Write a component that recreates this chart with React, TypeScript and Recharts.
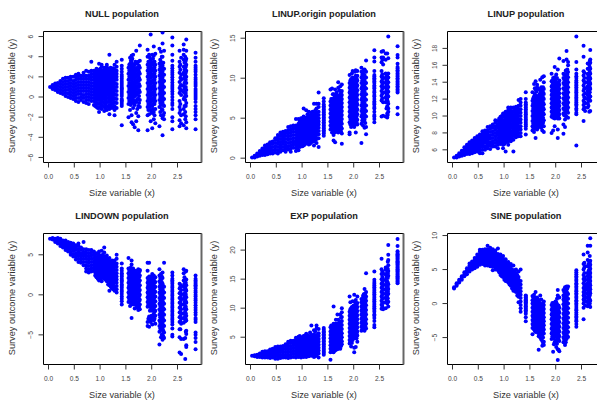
import { ScatterChart, Scatter, XAxis, YAxis, ReferenceArea, ReferenceLine } from 'recharts'

const xTicks = [0, 0.5, 1, 1.5, 2, 2.5]
const xDomain = [-0.097, 2.965]
const dotColor = '#0000FF'

// size variable, one entry per column of points (shared by all panels)
const sizeColumns = [
  0.03, 0.08, 0.13, 0.18, 0.23, 0.28, 0.33, 0.38, 0.43, 0.48, 0.53, 0.58, 0.63, 0.68,
  0.73, 0.78, 0.83, 0.88, 0.93, 0.98, 1.03, 1.08, 1.13, 1.18, 1.23, 1.28, 1.32,
  1.42, 1.55, 1.58, 1.61, 1.64, 1.67, 1.7, 1.74, 1.77,
  1.92, 1.95, 1.98, 2.01, 2.04, 2.07, 2.15, 2.18, 2.21, 2.24,
  2.4, 2.54, 2.57, 2.62, 2.65, 2.67, 2.85,
  // second pass over the dense parts
  0.905, 0.955, 1.005, 1.055, 1.105, 1.155, 1.205, 1.255,
  1.42, 1.565, 1.595, 1.625, 1.655, 1.685, 1.72, 1.755,
  1.935, 1.965, 1.995, 2.025, 2.055, 2.165, 2.195, 2.225,
  2.4, 2.555, 2.635, 2.66, 2.85,
]

const nullY = [
  [1], [.8,1,1.2], [.7,.95,1.2,1.35], [.5,.8,1.1,1.4], [.4,.7,1,1.3,1.6], [.3,.6,.9,1.2,1.5,1.8],
  [.1,.4,.7,1,1.3,1.6,1.9], [0,.35,.7,1,1.3,1.6,1.9], [-.1,.2,.5,.8,1.1,1.4,1.7,2], [-.2,.1,.4,.7,1,1.3,1.6,2],
  [-.4,-.1,.2,.5,.8,1.1,1.4,1.7,2,2.2], [-.5,-.1,.3,.6,.9,1.2,1.5,1.8,2.1,2.3], [-.3,0,.3,.6,.9,1.2,1.5,1.8,2.1],
  [-.5,-.1,.2,.6,.9,1.2,1.5,1.8,2.1,2.4], [-.6,-.3,0,.3,.6,.9,1.2,1.5,1.8,2.1,2.6], [-.7,-.3,0,.3,.6,.9,1.2,1.5,1.8,2.1,2.5],
  [-.4,-.1,.2,.5,.8,1.1,1.4,1.7,2,2.3,2.6,3.5], [-.8,-.4,-.1,.2,.5,.8,1.1,1.4,1.7,2,2.3,2.6], [-1,-.6,-.2,.1,.4,.7,1,1.3,1.6,1.9,2.2,2.5,2.8],
  [-1.5,-1.1,-.7,-.3,0,.3,.6,.9,1.2,1.5,1.8,2.1,2.4,2.7,3.3], [-1.2,-.8,-.4,-.1,.2,.5,.8,1.1,1.4,1.7,2,2.3,2.6,3,3.2],
  [-1.4,-1,-.6,-.2,.1,.4,.7,1,1.3,1.6,1.9,2.2,2.5,2.9], [-1.3,-.9,-.5,-.1,.3,.6,.9,1.2,1.5,1.8,2.1,2.4,2.7,3,3.2],
  [-1.7,-1.2,-.8,-.3,.1,.4,.7,1,1.3,1.6,1.9,2.2,2.5,2.8,4.2], [-1.1,-.7,-.3,0,.4,.8,1.1,1.4,1.8,2.1,2.4,2.7],
  [-1.8,-1.3,-.9,-.5,-.1,.3,.7,1,1.4,1.7,2,2.4,2.7,3.2], [-1.1,-.6,-.2,.2,.6,1,1.3,1.7,2,2.3,2.6,3,3.5],
  [-2.8,-.9,-.5,-.2,.3,.7,1,1.4,1.8,2.2,2.8,3.7], [-2,-.7,-.1,.5,1.1,1.7,2.3,2.9], [-1.3,-.4,.2,.8,1.4,2,2.6,3.3,3.9],
  [-2.5,-1.8,-.6,0,.6,1.2,1.8,2.4,3,3.6,4.1], [-2.7,-1.1,-.3,.3,.9,1.5,2.1,2.7,4.2], [-3,-.8,.1,.7,1.3,1.9,2.5,3.2],
  [-2.4,-1.6,-.5,.2,.8,1.4,2,2.6,3.4,4.6], [-3.3,-1.9,-.9,-.2,.4,1,1.6,2.2,2.8,3.5], [-1,-.3,.5,1.1,1.7,2.3,2.9,3.6,5.1],
  [-3.3,-1.8,-1,-.4,.2,.8,1.4,2,2.6,3.2,4,4.7], [-1.7,-.8,-.2,.4,1,1.6,2.2,2.8,3.4,4.2], [-2.4,-1.3,-.5,.1,.7,1.3,1.9,2.5,3.1,3.7,6.2],
  [-3.1,-1.6,-.9,-.3,.3,.9,1.5,2.1,2.7,3.3,4.2], [-2.2,-1.5,-.7,-.1,.5,1.1,1.7,2.3,2.9,3.5,4.1,5], [-2.6,-1.2,-.4,.2,.8,1.4,2,2.6,3.2,4.3],
  [-2.9,-1,-.3,.3,.9,1.5,2.1,2.7,3.3,4.8], [-1.8,-.8,-.1,.5,1.1,1.7,2.3,2.9,3.5,4.5], [-3.8,-2.1,-1.3,-.5,.1,.7,1.3,1.9,2.5,3.1,4,5.3,6.4],
  [-2.2,-1.6,-.9,-.2,.4,1,1.6,2.2,2.8,4.6],
  [-3.2,-2.4,-2,-1.2,-.8,-.3,.3,.8,1.2,1.7,2.2,2.6,3.1,3.6,4.2,5.1,5.9], [-2.9,-2.3,-1.6,-1,-.4,.4,.9,1.5,2.4,3,3.5,4.6], [-2.6,-1.8,.2,.7,1.2,1.7,2.2,3.9],
  [-2.8,-1.7,-1.2,-.2,.5,1.1,1.8,2.4,3,3.7,4.2,4.7,5.2], [-2.2,-1.5,-.3,.3,.9,1.5,2.2,2.9,3.4,4], [-3.1,-2.5,-.6,.1,.7,1.4,2,2.6,3.2,3.8,4.6,5.7],
  [-3.2,-2.2,-1.8,-1.5,-.9,-.5,0,.4,.8,1.1,1.5,1.9,2.5,2.9,3.1,3.5,3.9,4.4],
  [-.9,-.5,-.1,.3,.65,1.05,1.35,1.65,1.95,2.25], [-1.1,-.7,-.3,.1,.45,.75,1.05,1.35,1.65,1.95,2.25,2.55], [-1,-.6,-.25,.05,.35,.65,.95,1.25,1.55,1.85,2.15,2.45,2.8],
  [-.9,-.5,-.1,.25,.55,.85,1.15,1.45,1.75,2.05,2.35,2.65], [-1.1,-.7,-.3,.15,.45,.75,1.05,1.35,1.65,1.95,2.25,2.55,2.85], [-1,-.5,-.1,.25,.55,.85,1.15,1.45,1.75,2.05,2.35,2.65],
  [-.9,-.5,-.1,.2,.55,.9,1.2,1.55,1.85,2.2,2.55,2.9], [-1,-.6,-.2,.2,.5,.85,1.2,1.55,1.85,2.2,2.55,2.85],
  [-.7,-.35,.1,.5,.85,1.2,1.6,2,2.5,3.1], [-.4,.2,.8,1.4,2,2.6,3.2], [-.8,-.1,.5,1.1,1.7,2.3,2.9,3.6], [-.3,.3,.9,1.5,2.1,2.7,3.3,3.8],
  [-.6,0,.6,1.2,1.8,2.4,3], [-.4,.4,1,1.6,2.2,2.8,3.5], [-1.2,-.2,.5,1.1,1.7,2.3,2.9,3.3], [-.6,.1,.7,1.3,1.9,2.5,3.1],
  [-1.3,-.7,-.1,.5,1.1,1.7,2.3,2.9,3.5], [-1,-.3,.3,.9,1.5,2.1,2.7,3.3,3.9], [-1.5,-.8,-.2,.4,1,1.6,2.2,2.8,3.4], [-1.2,-.4,.2,.8,1.4,2,2.6,3.2,3.8], [-1.8,-.7,-.1,.5,1.1,1.7,2.3,2.9,3.5],
  [-1.5,-.6,0,.6,1.2,1.8,2.4,3,3.7], [-1.2,-.4,.2,.8,1.4,2,2.6,3.2,4], [-1.8,-.8,-.2,.4,1,1.6,2.2,2.8,3.4],
  [-.6,0,.55,1,1.45,1.95,2.4,2.85], [-1.3,-.7,.6,1.1,1.9,2.7,3.2], [-.9,0,.8,1.4,2.1,2.7,3.4], [-1.9,-.9,.4,1,1.7,2.4,3,3.6], [-1.2,-.2,.2,.6,1.3,1.7,2.2,2.7],
]

const linupOriginY = [
  [.1], [.1,.3], [.2,.4,.6], [.3,.6,.9], [.4,.7,1,1.2], [.4,.7,1,1.3,1.6], [.5,.8,1.1,1.4,1.7],
  [.6,.9,1.2,1.5,1.8,2], [.6,1,1.4,1.8,2.1], [.7,1.1,1.5,1.9,2.3,2.5], [.6,1,1.4,1.8,2.2,2.6,2.9], [.8,1.2,1.6,2,2.4,2.8,3.2],
  [1,1.4,1.8,2.2,2.6,3,3.3], [.8,1.2,1.6,2,2.4,2.8,3.2,3.4], [1.1,1.5,1.9,2.3,2.7,3.1,3.5,3.9], [.8,1.2,1.6,2,2.4,2.8,3.2,3.6,4],
  [1.3,1.7,2.1,2.5,2.9,3.3,3.7,4.1], [.9,1.3,1.7,2.1,2.5,2.9,3.3,3.7,4.1,4.9], [1,1.5,1.9,2.3,2.7,3.1,3.5,3.9,4.3,4.9],
  [1.5,1.9,2.3,2.7,3.1,3.5,3.9,4.3,4.7,5], [1.6,2,2.4,2.8,3.2,3.6,4,4.4,4.8,5.2,6.2], [1.9,2.3,2.7,3.1,3.5,3.9,4.3,4.7,5.1,6],
  [1.7,2.1,2.5,2.9,3.3,3.7,4.1,4.5,4.9,5.3,5.8], [2,2.4,2.8,3.2,3.6,4,4.4,4.8,5.2,5.7], [1.6,2.1,2.6,3,3.4,3.8,4.2,4.6,5,5.4,6.8],
  [1.9,2.4,2.9,3.3,3.7,4.1,4.5,4.9,5.3,5.7,6.2,6.8], [1.4,2.5,3,3.4,3.8,4.2,4.6,5,5.4,5.8,6.4,6.8,8.2],
  [2.8,3.1,3.5,3.9,4.3,4.7,5.1,5.5,5.9,6.3,6.7,7.1,7.5], [3.6,4.1,4.6,5.1,5.6,6.1,6.6,7.1,8.6], [3.2,3.9,4.4,4.9,5.4,5.9,6.4,6.9,7.4,8.7],
  [2.2,2.9,3.5,4.2,4.7,5.2,5.7,6.2,6.7,7.2,8], [2,3.3,3.8,4.5,5,5.5,6,6.5,7,7.5,8.6], [3.3,4,4.6,5.1,5.6,6.1,6.6,7.1,7.6,8.2],
  [3.2,3.8,4.3,4.8,5.3,5.8,6.3,6.8,7.3,7.8,8.8,9.5], [3.5,4,4.5,5,5.5,6,6.5,7,7.5,8,9], [1.8,3.1,3.7,4.3,4.9,5.4,5.9,6.4,6.9,7.4,7.9,8.4,9.2],
  [3,3.2,4.5,5.2,5.8,6.4,7,7.6,8.2,8.8,9.4,10.4], [3.9,4.6,5.2,5.8,6.4,7,7.6,8.2,8.8,9.4,9.9], [4.1,4.8,5.4,6,6.6,7.2,7.8,8.4,9,9.6,10.1,10.9],
  [3.9,4.5,5.1,5.7,6.3,6.9,7.5,8.1,8.7,9.3,9.9], [3.2,4.2,4.9,5.5,6.1,6.7,7.3,7.9,8.5,9.1,9.7,10.3,11], [4.2,4.8,5.5,6.1,6.7,7.3,7.9,8.5,9.1,9.7,10.3,10.9],
  [1.9,4.3,5.2,5.9,6.6,7.3,8,8.7,9.4,10.1,10.8,11.3], [4.1,5,5.7,6.4,7.1,7.8,8.5,9.2,9.9,10.6], [3.8,4.8,5.5,6.2,6.9,7.6,8.3,9,9.7,10.4,11.1],
  [3,3.9,5.2,5.9,6.6,7.3,8,8.7,9.4,10.1,10.8,12.2],
  [4.5,4.9,5.4,6.2,6.7,7.1,7.7,8.2,8.7,9.1,9.6,10,10.4,10.9,12.1,12.6,13.5], [5.2,7.2,7.8,8.4,9,9.6,10.2,10.9,12,12.6,13.3], [5.3,7,8.2,8.9,9.5,10.1,11.7,12.6,13.4],
  [5.2,7,7.6,8.2,8.8,9.4,10,10.6,12.3,13.1], [5.1,5.6,6.5,7.4,8,8.6,9.2,9.8,10.4,13.1], [5.8,6.2,6.8,7.7,8.3,8.9,9.5,10.1,10.6,12.5,15.2],
  [5.5,6.3,8.2,8.6,9,9.4,9.8,10.2,10.6,11,11.4,11.8,12.6,12.9,14],
  [1.2,1.6,2,2.4,2.8,3.2,3.6,4], [1.4,1.8,2.2,2.6,3,3.4,3.8,4.2,4.6], [1.5,1.8,2.2,2.6,3,3.4,3.8,4.2,4.6,5], [1.7,2.1,2.5,2.9,3.3,3.7,4.1,4.5,4.9],
  [1.9,2.3,2.7,3.1,3.5,3.9,4.3,4.7,5.1,5.5], [1.8,2.2,2.6,3,3.4,3.8,4.2,4.6,5,5.4], [2.2,2.6,3,3.4,3.8,4.2,4.6,5,5.4,5.8], [2.3,2.7,3.2,3.6,4,4.4,4.8,5.2,5.6,6],
  [3.3,3.7,4.1,4.5,4.9,5.3,5.7,6.1,6.5], [3.9,4.4,4.9,5.4,5.9,6.4,6.9,7.4], [3.6,4.2,4.7,5.2,5.7,6.2,6.7,7.2,8], [3.2,3.8,4.4,5,5.5,6,6.5,7,7.6],
  [3.6,4.2,4.7,5.2,5.7,6.2,6.8,7.3,7.9], [3.7,4.3,4.8,5.3,5.8,6.3,6.8,7.4], [3.5,4.1,4.6,5.1,5.6,6.1,6.6,7.1,7.6,8.5], [3.3,3.9,4.6,5.2,5.7,6.2,6.7,7.2,7.7,8.2],
  [4.2,4.9,5.5,6.1,6.7,7.3,7.9,8.5,9.1,9.7], [4.3,4.9,5.5,6.1,6.7,7.3,7.9,8.5,9.1,9.7,10.6], [4.2,4.8,5.4,6,6.6,7.2,7.8,8.4,9,9.6], [4.6,5.2,5.8,6.4,7,7.6,8.2,8.8,9.4,10,10.8], [4.5,5.2,5.8,6.4,7,7.6,8.2,8.8,9.4,10],
  [4.7,5.5,6.2,6.9,7.6,8.3,9,9.7,10.4], [4.6,5.3,6,6.7,7.4,8.1,8.8,9.5,10.2,11], [4.4,5.2,5.9,6.6,7.3,8,8.7,9.4,10.1,10.9],
  [5.2,5.8,6.4,6.9,7.4,7.9,8.4,8.9,9.4,9.8,10.2], [7.5,8.1,8.7,9.3,9.9,10.5,12.3], [6.2,7.3,7.9,8.5,9.1,9.7,10.3], [5.4,7.1,7.7,8.3,8.9,9.5,10.1], [8.4,8.8,9.2,9.6,10,10.4,10.8,11.2],
]

const linupY = [
  [5.1], [5.1,5.3], [5.2,5.4,5.6], [5.3,5.6,5.9], [5.4,5.7,6,6.3], [5.5,5.8,6.1,6.4,6.6], [5.5,5.8,6.1,6.4,6.7,6.9],
  [5.6,5.9,6.2,6.5,6.8,7.1], [5.7,6,6.3,6.6,6.9,7.2,7.4], [5.8,6.1,6.4,6.7,7,7.3,7.6], [5.6,5.9,6.3,6.6,6.9,7.2,7.5,7.8], [5.6,6,6.4,6.7,7,7.3,7.6,7.9,8.2],
  [6,6.4,6.8,7.1,7.4,7.7,8,8.3], [6.2,6.5,6.8,7.1,7.4,7.7,8,8.3,8.7], [6.1,6.5,6.9,7.3,7.7,8.1,8.5,8.8], [6.4,6.7,7,7.4,7.8,8.2,8.6,9],
  [6.4,6.8,7.2,7.6,8,8.4,8.8,9.2,9.5], [6.2,6.6,7,7.4,7.8,8.2,8.6,9,9.4], [6.7,7.1,7.5,7.9,8.3,8.7,9.1,9.5,9.9], [6.2,6.6,7,7.4,7.8,8.2,8.6,9,9.4,9.9,10.3],
  [5.8,6.9,7.3,7.7,8.1,8.5,8.9,9.3,9.7,10.2,10.5], [6.6,7,7.4,7.8,8.2,8.6,9,9.4,9.8,10.2,10.7,11], [7,7.4,7.8,8.2,8.6,9,9.4,9.8,10.2,10.6,11], [5.8,7.2,7.7,8.1,8.5,8.9,9.3,9.7,10.1,10.5,11],
  [7.5,7.9,8.3,8.7,9.1,9.5,9.9,10.3,10.7,11.1], [7.6,8,8.4,8.8,9.2,9.6,10,10.4,10.8,11.2,11.9], [7.6,8,8.4,8.8,9.2,9.6,10,10.4,10.8,11.2,11.6,12],
  [7.8,8.8,9.2,9.6,10,10.4,10.8,11.2,11.6,12.8], [8.3,8.8,9.4,10,10.6,11.2,11.8,12.8], [8.1,8.6,9.2,9.8,10.4,11,11.6,12.3,13.8], [7.4,8.5,9.1,9.7,10.3,10.9,11.5,12.1,13.1,14.1],
  [8.4,9,9.6,10.2,10.8,11.4,12,13.4,13.7], [8.7,9.3,9.9,10.5,11.1,11.7,12.2,13.2], [8.8,9.4,10,10.6,11.2,11.8,12.4,13,14.3], [8.3,8.9,9.5,10.1,10.7,11.3,11.9,12.5,13.1,14.6],
  [8.1,8.8,9.5,10.2,10.8,11.4,12,12.6,13.2,14,14.7], [8,9.9,10.5,11,11.5,12,12.5,13,13.5,14.1,15], [8.3,9.8,10.3,10.8,11.3,11.8,12.3,12.8,13.3,13.8,14.5], [8.8,9.7,10.2,10.7,11.2,11.7,12.2,12.7,13.2,14.6,15.8],
  [9.9,10.4,10.9,11.4,11.9,12.4,12.9,13.4,13.9,14.4,14.9], [7.4,8.4,9.7,10.2,10.7,11.2,11.7,12.2,12.7,13.2,13.7,15.5], [9.7,10.2,10.7,11.2,11.7,12.2,12.7,13.2,13.7,14.2,16.8],
  [7.9,9,10.3,10.9,11.5,12.1,12.7,13.3,13.9,14.5,15,16.5], [8.7,9.6,10.2,10.8,11.4,12,12.6,13.2,13.8,14.4], [9.9,10.5,11.1,11.7,12.3,12.9,13.5,14.1,14.7,15.3,16.7,17.7], [9.8,10.4,11,11.6,12.2,12.8,13.4,14,14.6,15.2,16,16.4],
  [6.5,10.2,10.7,11.2,11.6,12,12.4,12.8,13.2,13.6,14,14.5,15,15.5,16.4,19.4], [9.4,10.8,11.3,11.8,12.5,13,13.6,14.2,14.8,15.3,17,18.3], [10.6,11.5,12.1,12.7,13.3,14],
  [11,11.5,12,12.5,13,13.5,14,14.5,15,15.6,16.2], [10.5,12,12.5,13.1,13.7,14.3,14.9,15.5,16.1], [10.6,11.8,12.3,13.2,13.8,14.4,15,15.6,16.3,16.7,17.8],
  [11,12,13,14,15,16,17],
  [6.9,7.3,7.7,8.1,8.5,8.9,9.3,9.7], [6.8,7.2,7.6,8,8.4,8.8,9.2,9.6,10], [6.7,7.1,7.5,7.9,8.3,8.7,9.1,9.5,9.9,10.3], [7.2,7.6,8,8.4,8.8,9.2,9.6,10,10.4],
  [7.2,7.6,8,8.4,8.8,9.2,9.6,10,10.4,10.8], [7.4,7.8,8.2,8.6,9,9.4,9.8,10.2,10.6], [7.7,8.1,8.5,8.9,9.3,9.7,10.1,10.5,10.9], [7.8,8.2,8.6,9,9.4,9.8,10.2,10.6,11],
  [8.5,9,9.4,9.8,10.2,10.6,11,11.4,12], [8.6,9.1,9.7,10.3,10.9,11.5,12.1], [8.9,9.5,10.1,10.7,11.3,11.9,12.6,13.3], [8.8,9.4,10,10.6,11.2,11.8,12.4,12.9],
  [8.7,9.3,9.9,10.5,11.1,11.7,12.3], [9,9.6,10.2,10.8,11.4,12,12.6], [8.6,9.2,9.8,10.4,11,11.6,12.2,12.8,13.4], [9.2,9.8,10.4,11,11.6,12.2,12.8,13.4],
  [10.2,10.7,11.2,11.7,12.2,12.7,13.2,13.7,14.2], [10,10.6,11.1,11.6,12.1,12.6,13.1,13.6,14.1], [10.1,10.6,11.1,11.6,12.1,12.6,13.1,13.6,14.3], [9.9,10.4,10.9,11.4,11.9,12.4,12.9,13.4,13.9,14.5], [10,10.5,11,11.5,12,12.5,13,13.5,14],
  [10.1,10.7,11.3,11.9,12.5,13.1,13.7,14.3,14.9], [10,10.6,11.2,11.8,12.4,13,13.6,14.2,14.8,15.4], [10.7,11.3,11.9,12.5,13.1,13.7,14.3,14.9,15.5],
  [10.4,10.9,11.4,11.8,12.2,12.6,13,13.4,13.8,14.2,14.7], [11,11.6,12.2,13.3,13.9,14.5,15.1], [11.2,11.8,12.3,12.8,13.3,13.8,14.3,14.8], [12.3,12.8,13.4,14,14.6,15.2,15.8,16.5], [12,13,14],
]

const lindownY = [
  [7], [6.9,7.1], [6.6,6.8,7], [6.4,6.6,6.9,7.1], [6.1,6.4,6.7,7], [5.9,6.2,6.5,6.8], [5.6,5.9,6.2,6.5,6.8],
  [5.4,5.7,6,6.3,6.6], [5,5.3,5.7,6,6.3,6.5], [4.8,5.1,5.5,5.8,6.1,6.4], [4.4,4.8,5.2,5.6,5.9,6.2], [4.1,4.5,4.9,5.3,5.7,6.1,6.4],
  [4,4.4,4.8,5.2,5.6,5.9], [3.7,4.1,4.5,4.9,5.3,5.7,6.6], [2.9,3.3,3.7,4.1,4.5,4.9,5.3,5.7], [2.8,3.2,3.6,4,4.4,4.8,5.2,5.6],
  [2.9,3.3,3.7,4.1,4.5,4.9,5.3,5.6], [3,3.4,3.8,4.2,4.6,5,5.4], [2.2,2.6,3,3.4,3.8,4.2,4.6,5.2], [1.8,2.2,2.6,3,3.4,3.8,4.2,4.6,5,5.4],
  [1.7,2.1,2.5,2.9,3.3,3.7,4.1,4.5,4.9,5.5], [2,2.4,2.8,3.2,3.6,4,4.4,4.8,5.3,5.9], [1.7,2.1,2.5,2.9,3.3,3.7,4.1,4.5,4.9], [.5,1.2,1.7,2.1,2.5,2.9,3.3,3.7,4.1,4.6],
  [.8,1.2,1.6,2,2.4,2.8,3.2,3.6,4,4.3], [.5,1,1.5,1.9,2.3,2.7,3.1,3.5,3.9,4.3], [.3,.7,1.1,1.5,1.9,2.3,2.7,3.1,3.5,3.9,4.5,5],
  [-1.2,-.5,.1,.6,1.1,1.6,2,2.5,3,3.9], [-.9,-.3,.3,.9,1.5,2.1,2.7,3.3,4.6], [-1.4,-.5,.1,.7,1.3,1.9,2.5,3.1], [-2.9,-1.2,-.4,.2,.8,1.4,2,2.6,3.2,3.8,4.3],
  [-1,-.3,.3,.9,1.5,2.1,2.7,3.3], [-1.7,-.7,-.1,.5,1.1,1.7,2.3,2.9], [-1.3,-.6,0,.6,1.2,1.8,2.4,3], [-1.9,-1.1,-.4,.2,.8,1.4,2,2.6,3.2], [-1.8,-1.2,-.6,0,.6,1.2,1.8,2.4,3,3.1],
  [-3.9,-3.4,-1.5,-.9,-.3,.3,.9,1.5,2.1,3,4], [-4,-2.7,-1.2,-.6,0,.6,1.2,1.8,2.3,4], [-3.4,-2.9,-1.9,-1.3,-.7,-.1,.5,1.1,1.7,2.3], [-3.7,-3,-2,-1.4,-.8,-.2,.4,1,1.6,2.2,2.6],
  [-3.2,-2.4,-1.8,-1.2,-.6,0,.6,1.2,1.8,2.4], [-3.6,-2.6,-2,-1.4,-.8,-.2,.4,1,1.6,2.2],
  [-6.2,-4.6,-3.9,-3.2,-2.5,-1.8,-1.1,-.4,.3,1,1.7,2.4,3.2], [-5.3,-4.4,-3.7,-3,-2.3,-1.6,-.9,-.2,.5,1.2,1.9,2.6], [-5.6,-4.9,-4.2,-3.5,-2.8,-2.1,-1.4,-.7,0,.7,1.4,2.1,2.8], [-5.4,-4.7,-3.9,-3.2,-2.5,-1.8,-1.1,-.4,.3,1,4],
  [-5.2,-5,-4.2,-3.4,-2.9,-2.4,-1.9,-1.4,-.9,-.4,.1,.6,1.1,1.6,2,2.4,2.8], [-7.2,-5.3,-4.3,-3.4,-2.8,-2.2,-1.6,-1,-.4,.2,.8,1.4], [-7.4,-5.5,-3.6,-3,-2.4,-1.8,-1.2,-.6,0,.6,1.2],
  [-5.5,-3.5,-2.9,-2.3,-1.2,-.5,.1,1,1.8,2.7,3.2], [-8,-5.4,-3.3,-2.7,-2,-1.4,-.6,.2,.9,1.8], [-6.5,-6.3,-4.9,-4.5,-3.2,-2.6,-1.8,-1,-.3,.5,1.2,1.9,3],
  [-6.8,-5.9,-5.4,-5,-4.7,-3.4,-2.9,-2.2,-1.6,-1,-.5,0,.5,1,1.4,1.8,2.4],
  [2.4,2.8,3.2,3.6,4,4.4,4.8,5.1], [2,2.4,2.8,3.2,3.6,4,4.4,4.8], [1.9,2.3,2.7,3.1,3.5,3.9,4.3,4.7], [2.2,2.6,3,3.4,3.8,4.2,4.6,5],
  [1.9,2.3,2.7,3.1,3.5,3.9,4.3,4.7], [1.3,1.9,2.3,2.7,3.1,3.5,3.9,4.3], [1,1.4,1.8,2.2,2.6,3,3.4,3.8,4.2], [.7,1.2,1.7,2.1,2.5,2.9,3.3,3.7,4.1],
  [-.8,-.2,.4,.9,1.3,1.8,2.3,2.7,3.3], [-.6,0,.6,1.2,1.8,2.4,3], [-1,-.2,.4,1,1.6,2.2,2.8,3.4], [-.8,-.1,.5,1.1,1.7,2.3,2.9],
  [-1.2,-.6,0,.6,1.2,1.8,2.4,3], [-1,-.4,.2,.8,1.4,2,2.6], [-1.6,-1,-.3,.3,.9,1.5,2.1,2.7], [-1.5,-.8,-.2,.4,1,1.6,2.2,2.8],
  [-3,-1.2,-.6,0,.6,1.2,1.8], [-3.2,-2,-1.5,-.9,-.3,.3,.9,1.5,2], [-2.6,-1.6,-1,-.4,.2,.8,1.4,2], [-2.7,-1.7,-1.1,-.5,.1,.7,1.3,1.9], [-3,-2.1,-1.5,-.9,-.3,.3,.9,1.5,2.1],
  [-4.2,-3.5,-2.8,-2.1,-1.4,-.7,0,.7,1.4,2.1], [-5,-4,-3.3,-2.6,-1.9,-1.2,-.5,.2,.9,1.6,2.3], [-5.2,-4.5,-3.8,-3.1,-2.4,-1.7,-1,-.3,.4,1.1],
  [-3.7,-3.1,-2.6,-2.1,-1.6,-1.1,-.6,-.1,.4,.9,1.4,1.8], [-4.3,-3.3,-2.7,-2.1,-1.5,-.9,-.3,.3,1], [-3,-2.4,-1.7,-.9,-.2,.6,1.4,2.2], [-4.6,-3,-2.3,-1.5,-.8,0,.7,1.5,2.9], [-3.1,-2.5,-1.9,-1.3,-.7,-.2,.3,.8,1.2,1.6,2],
]

const expY = [
  [1.8], [1.7,1.9], [1.6,1.8,2], [1.6,1.9,2.2], [1.5,1.8,2.1,2.5], [1.5,1.9,2.3,2.6], [1.5,1.9,2.3,2.6],
  [1.4,1.8,2.2,2.6,2.9], [1.5,1.9,2.3,2.7,3], [1.3,1.7,2.1,2.5,2.9,3.3], [1.3,1.7,2.1,2.5,2.9,3.4], [1.4,1.9,2.4,2.9,3.4],
  [1.5,2,2.5,3,3.5], [1.5,2,2.5,3,3.5,3.8], [1.4,1.9,2.4,2.9,3.4,3.9,4.2], [1.5,2,2.5,3,3.5,4,4.4], [1.6,2.1,2.6,3.1,3.6,4.1,4.4],
  [1.5,2,2.5,3,3.5,4,4.5,4.9], [1.6,2.1,2.6,3.1,3.6,4.1,4.6,5.1], [1.5,2,2.5,3,3.5,4,4.5,5], [1.6,2.1,2.6,3.1,3.6,4.1,4.6,5.2],
  [1.6,2.1,2.6,3.1,3.6,4.1,4.6,5.2,5.6], [1.7,2.2,2.7,3.2,3.7,4.2,4.7,5.2], [1.8,2.3,2.8,3.3,3.8,4.3,4.8,5.4,7], [1.6,2.1,2.6,3.1,3.6,4.1,4.6,5.1,5.5,6.2],
  [1.9,2.4,2.9,3.4,3.9,4.4,4.9,5.4,6.5,7], [1.5,2.2,2.7,3.2,3.7,4.2,4.7,5.2,5.7,6.4],
  [2,2.5,3,3.5,4,4.5,5,5.5,6,6.6], [1.1,2.4,3,3.6,4.2,4.8,5.4,6,6.7], [2.6,3.2,3.8,4.4,5,5.6,6.2,6.9], [2.4,3,3.6,4.2,4.8,5.4,6,6.6,7.3,10.3],
  [2.7,3.3,3.9,4.5,5.1,5.7,6.3,7], [2.9,3.5,4.1,4.7,5.3,5.9,6.5,7.2], [3,3.6,4.2,4.8,5.4,6,6.6,7.2,8], [3,3.7,4.3,4.9,5.5,6.1,6.7,7.3,8.9], [3.8,4.3,5,5.7,6.4,7.1,7.8,8.5,9.3,10],
  [3.9,4.5,5.2,5.9,6.6,7.3,8,8.7,9.4,12], [3.4,4.3,5,5.7,6.4,7.1,7.8,8.5,9.2,10], [4.5,5.1,5.8,6.5,7.2,7.9,8.6,9.3,10,11.2], [2.4,3.2,5,5.6,6.3,7,7.7,8.4,9.1,9.8,10.4,12.3],
  [3.3,4.8,5.5,6.2,6.9,7.6,8.3,9,9.7,10.4,11.4], [4.2,5.3,6,6.7,7.4,8.1,8.8,9.5,10.2,10.9,12],
  [6.1,6.8,7.5,8.2,8.9,9.6,10.3,11,11.6], [6.4,7.2,7.9,8.6,9.3,10,10.7,11.4,12.1], [6.1,6.8,7.6,8.4,9.2,10,10.8,11.6,12.4,13.3], [6.5,7.3,8.1,8.9,9.7,10.5,11.3,12,12.8,16],
  [6.7,7.1,7.8,8.7,9.4,10,10.6,11.2,11.8,12.4,13,13.6,14.2,14.9,16.3], [9.9,10.6,11.3,12,12.8,13.5,14.2,15,15.9,16.7,18.5], [9.8,10.9,11.7,12.5,13.3,14.1,15,16],
  [10,11,11.8,12.5,13.2,14,14.8,15.8,16.6,17], [10.8,11.4,12.2,13,13.8,14.6,15.4,16.2], [10.3,11.1,12.5,13.3,14.1,15.6,16.4,17.4,18.3,19.2,20.9],
  [14.3,14.7,15.1,15.5,15.9,16.3,16.7,17.1,17.5,17.9,18.3,18.7,19.1,19.5,19.8,20.7,21.9],
  [1.8,2.3,2.8,3.3,3.8,4.3,4.8], [1.7,2.2,2.7,3.2,3.7,4.2,4.7,5.2], [1.9,2.4,2.9,3.4,3.9,4.4,4.9], [1.8,2.3,2.8,3.3,3.8,4.3,4.8,5.3],
  [1.9,2.4,2.9,3.4,3.9,4.4,4.9,5.4], [2,2.5,3,3.5,4,4.5,5,5.8], [1.9,2.4,2.9,3.4,3.9,4.4,4.9,5.3], [1.7,2.2,2.7,3.2,3.7,4.2,4.7,5.1,6],
  [2.3,2.8,3.3,3.8,4.3,4.8,5.3,5.8,6.3], [2.7,3.3,3.9,4.5,5.1,5.7,6.3,7], [2.5,3.1,3.7,4.3,4.9,5.5,6.1,6.8], [2.7,3.3,3.9,4.5,5.1,5.7,6.3,7],
  [3,3.6,4.2,4.8,5.4,6,6.6,7.3,8], [3,3.6,4.2,4.8,5.4,6,6.6,7.3,8.9], [3.2,3.8,4.4,5,5.6,6.2,6.8,7.5], [3.5,4.1,4.7,5.3,5.9,6.5,7.1,7.7,8.4],
  [4.3,4.9,5.6,6.3,7,7.7,8.4,9.1,9.8,11], [4,4.7,5.4,6.1,6.8,7.5,8.2,8.9,9.6,10.2], [4.8,5.5,6.2,6.9,7.6,8.3,9,9.7,10.4], [5.3,6,6.7,7.4,8.1,8.8,9.5,10.1,11], [4.8,5.7,6.4,7.1,7.8,8.5,9.2,9.9,10.6],
  [6.4,7.1,7.8,8.5,9.2,9.9,10.6,11.3], [6.8,7.5,8.2,8.9,9.6,10.3,11,11.7,12.4], [6.9,7.7,8.5,9.3,10.1,10.9,11.7,12.5],
  [8.3,8.9,9.7,10.3,10.9,11.5,12.1,12.7,13.3,13.9,14.5], [10.3,11,11.7,12.4,13.1,13.8,14.5,15.4,16.3], [11.4,12.1,12.9,13.7,14.5,15.3,16.9], [11.7,12.9,13.7,14.4,15.2,16,16.8,18], [14.5,14.9,15.3,15.7,16.1,16.5,16.9,17.3,17.7,18.1,18.5,18.9,19.3],
]

const sineY = [
  [2.2,2.4], [2.6,2.8,3], [3.1,3.3,3.5], [3.5,3.8,4], [4,4.3,4.6], [4.3,4.6,4.9,5.2], [4.7,5,5.3,5.6,5.9],
  [5,5.3,5.6,5.9,6.2], [5.2,5.5,5.8,6.1,6.4,6.7], [5.4,5.7,6,6.3,6.6,6.9,7.2], [5.7,6,6.3,6.6,6.9,7.2,7.6,7.9], [5.8,6.1,6.4,6.7,7,7.3,7.6,7.9],
  [5.6,5.9,6.2,6.5,6.8,7.1,7.4,7.7,8], [5.6,5.9,6.2,6.5,6.8,7.1,7.4,7.7,8,8.5], [5.5,5.8,6.1,6.4,6.7,7,7.3,7.6,7.9,8.2], [4.9,5.4,5.8,6.1,6.4,6.7,7,7.3,7.6,8],
  [5,5.4,5.7,6,6.3,6.6,6.9,7.2,7.5,7.8], [4.9,5.2,5.5,5.8,6.1,6.4,6.7,7,7.3,8.1], [4.2,4.5,4.8,5.1,5.4,5.7,6,6.3,6.6,6.9,7.2], [3.9,4.2,4.5,4.8,5.1,5.4,5.7,6,6.3,6.6,7],
  [3.3,3.7,4.1,4.5,4.9,5.3,5.7,6.1,6.5], [3.1,3.4,3.7,4.1,4.5,4.9,5.3,5.7,6.1], [2.6,3,3.4,3.8,4.2,4.6,5,5.4,5.8], [1.9,2.3,2.7,3.1,3.5,3.9,4.3,4.7,5.6],
  [1.7,2.1,2.5,2.9,3.3,3.7,4.1,4.5,5], [.2,1,1.5,1.9,2.3,2.7,3.1,3.5,3.9,4.7], [-1.2,-.7,-.2,.3,.8,1.3,1.8,2.3,2.8,3.3,5],
  [-2.6,-2,-1.2,-.8,-.4,0,.3,.6,.9,1.2], [-4.5,-3.6,-3,-2.4,-1.8,-1.2,-.6,0,.5,1.1], [-3.8,-3.2,-2.6,-2,-1.4,-.8,-.2,.4,1.3], [-4.2,-3.4,-2.8,-2.2,-1.6,-1,-.4,.2,.8,1.7],
  [-3.9,-3.3,-2.7,-2.1,-1.5,-.9,-.3,.3,.9], [-6.8,-4.8,-4,-3.4,-2.8,-2.2,-1.6,-1,-.4,.2], [-5,-4.3,-3.6,-3,-2.4,-1.8,-1.2,-.6,0,1.2], [-6.2,-5.5,-4.6,-3.9,-3.2,-2.6,-2,-1.4,-.8,-.2], [-6.1,-5.6,-4.4,-3.8,-3.2,-2.6,-2,-1.4,-.8,-.2,.3],
  [-5.2,-4.4,-3.7,-3,-2.3,-1.6,-.9,-.2], [-7.1,-5.1,-4.4,-3.7,-3,-2.3,-1.6,-.9,-.2], [-5.7,-4.9,-4.2,-3.5,-2.8,-2.1,-1.4,-.7,0], [-6.4,-5.5,-4.7,-4,-3.3,-2.6,-1.9,-1.2,-.5,.2],
  [-8.3,-6.7,-5.2,-4.5,-3.8,-3.1,-2.4,-1.7,-1,-.3,1.2,2], [-7,-5.5,-4.8,-4.1,-3.4,-2.7,-2,-1.3,-.6,.9],
  [-5.7,-5,-4.3,-3.6,-2.9,-2.2,-1.5,-.8,-.1,.6,1.2,2], [-6.1,-5.4,-4.7,-4,-3.3,-2.6,-1.9,-1.2,-.5,.2,.9,1.6,2.4], [-5.2,-4.5,-3.8,-3.1,-2.4,-1.7,-1,-.3,.4,1.1,1.8,2.5], [-4.9,-4.2,-3.5,-2.8,-2.1,-1.4,-.7,0,.7,1.4,2.5],
  [-3.4,-3,-2.4,-1.9,-1.3,-.8,-.2,.3,.8,1.3,1.8,2.3,2.8,3.3,3.8,4.3,4.9], [-2.3,-.6,0,.6,1.2,1.7,2.3,3,3.6,4.2,5,5.8,7.2], [-.3,.4,1,1.6,2.2,2.8,3.5,5.5],
  [-.4,.2,.8,1.4,2,2.5,3,3.5,4,4.5,5.5,6.4,7.5,8.5], [-.3,.3,.8,1.4,2,2.6,3.2,3.8,4.4,5,6.2], [-.5,.4,1.5,2.1,2.7,3.3,3.9,4.5,5.1,5.7,6.3,8.5,9.6],
  [0,1,2,3,4,5,6,7,8,9],
  [4.6,5,5.4,5.8,6.2,6.6,7], [4,4.4,4.8,5.2,5.6,6,6.4,6.8], [3.5,3.9,4.3,4.7,5.1,5.5,5.9,6.3], [3.3,3.7,4.1,4.5,4.9,5.3,5.7,5.9],
  [2.8,3.2,3.6,4,4.4,4.8,5.2,5.6], [2.2,2.6,3,3.4,3.8,4.2,4.6,5], [1.9,2.3,2.7,3.1,3.5,3.9,4.3,4.9], [1.2,1.8,2.2,2.6,3,3.4,3.8,4.2],
  [-1.5,-1,-.6,-.2,.2,.5,.8,1.1], [-3.2,-2.6,-2,-1.4,-.8,-.2,.4,.9], [-4,-3.5,-2.9,-2.3,-1.7,-1.1,-.5,.1,.9], [-3.8,-3.1,-2.5,-1.9,-1.3,-.7,-.1,.5],
  [-4.3,-3.6,-3,-2.4,-1.8,-1.2,-.6,0,.6], [-4.5,-3.7,-3.1,-2.5,-1.9,-1.3,-.7,-.1,.5], [-5.3,-4.5,-3.8,-3.2,-2.6,-2,-1.4,-.8,-.2,.6], [-5.8,-5,-4.2,-3.5,-2.9,-2.3,-1.7,-1.1,-.5,.1],
  [-4.8,-4.1,-3.4,-2.7,-2,-1.3,-.6,.1], [-6,-4.7,-4,-3.3,-2.6,-1.9,-1.2,-.5,.1], [-5.4,-4.6,-3.9,-3.2,-2.5,-1.8,-1.1,-.4,.3], [-5.9,-5,-4.3,-3.6,-2.9,-2.2,-1.5,-.8,-.1,.7], [-6.8,-5.2,-4.5,-3.8,-3.1,-2.4,-1.7,-1,-.3],
  [-5.3,-4.6,-3.9,-3.2,-2.5,-1.8,-1.1,-.4,.3,.9,1.7], [-5.7,-5,-4.3,-3.6,-2.9,-2.2,-1.5,-.8,-.1,.6,1.3,2.1], [-4.8,-4.1,-3.4,-2.7,-2,-1.3,-.6,.1,.8,1.5,2.2],
  [-2.6,-2.1,-1.6,-1,-.5,0,.5,1,1.5,2,2.5,3,3.5,4,4.6], [.3,.9,1.5,2,2.6,3.3,3.9,4.5,5.3,6], [-.1,.5,1.1,1.7,2.3,2.8,3.3,3.8,4.3,4.8,5.8], [0,.6,1.2,1.8,2.4,3,3.6,4.2,4.8,5.4,6,7], [.5,1.5,2.5],
]

interface PanelSpec {
  title: string
  left: number
  top: number
  yDomain: number[]
  yTicks: number[]
  ys: number[][]
}

const panels: PanelSpec[] = [
  { title: 'NULL population', left: 0, top: 0, yDomain: [-6.5, 6.5], yTicks: [-6, -4, -2, 0, 2, 4, 6], ys: nullY },
  { title: 'LINUP.origin population', left: 202, top: 0, yDomain: [-0.54, 15.84], yTicks: [0, 5, 10, 15], ys: linupOriginY },
  { title: 'LINUP population', left: 404, top: 0, yDomain: [4.5, 20], yTicks: [6, 8, 10, 12, 14, 16, 18], ys: linupY },
  { title: 'LINDOWN population', left: 0, top: 202, yDomain: [-8.7, 7.66], yTicks: [-5, 0, 5], ys: lindownY },
  { title: 'EXP population', left: 202, top: 202, yDomain: [0.3, 22.86], yTicks: [5, 10, 15, 20], ys: expY },
  { title: 'SINE population', left: 404, top: 202, yDomain: [-8.96, 10.3], yTicks: [-5, 0, 5, 10], ys: sineY },
]

const fmtTick = (v: number) => String(v).replace('-', '\u2212')

const Dot = ({ cx, cy }: any) => <circle cx={cx} cy={cy} r={2} fill={dotColor} />

const XTick = ({ x, y, payload }: any) => (
  <text x={x} y={y + 9.5} textAnchor="middle" fontSize={6.6} fill="#444">
    {payload.value.toFixed(1)}
  </text>
)

const YTick = ({ x, y, payload }: any) => (
  <text x={x - 3} y={y} transform={`rotate(-90 ${x - 3} ${y})`} textAnchor="middle" fontSize={6.6} fill="#444">
    {fmtTick(payload.value)}
  </text>
)

function Panel({ title, left, top, yDomain, yTicks, ys }: PanelSpec) {
  const points = sizeColumns.flatMap((x, i) => (ys[i] ?? []).map(y => ({ x, y })))

  return (
    <div style={{ position: 'absolute', left, top }}>
      <ScatterChart
        width={204}
        height={198}
        margin={{ top: 31.5, right: 2.5, bottom: 0, left: 0 }}
        style={{ fontFamily: '"Liberation Sans", Arial, sans-serif' }}
      >
        <XAxis
          type="number"
          dataKey="x"
          domain={xDomain}
          ticks={xTicks}
          interval={0}
          height={35.5}
          tickSize={5}
          axisLine={false}
          tickLine={{ stroke: '#333' }}
          tick={<XTick />}
          allowDataOverflow
        />
        <YAxis
          type="number"
          dataKey="y"
          domain={yDomain}
          ticks={yTicks}
          interval={0}
          width={43.5}
          tickSize={5}
          axisLine={false}
          tickLine={{ stroke: '#333' }}
          tick={<YTick />}
          allowDataOverflow
        />
        <Scatter data={points} fill={dotColor} shape={Dot} isAnimationActive={false} />
        <ReferenceArea
          x1={xDomain[0]} x2={xDomain[1]} y1={yDomain[0]} y2={yDomain[1]}
          fill="none" stroke="#000" strokeWidth={1}
        />
        <ReferenceLine x={xDomain[1]} stroke="#666" strokeWidth={2} />
        <text x={122} y={17} textAnchor="middle" fontSize={9.2} fontWeight="bold" fill="#222">{title}</text>
        <text x={122} y={196} textAnchor="middle" fontSize={9.2} fill="#333">Size variable (x)</text>
        <text x={15} y={96} transform="rotate(-90 15 96)" textAnchor="middle" fontSize={9.2} fill="#333">Survey outcome variable (y)</text>
      </ScatterChart>
    </div>
  )
}

export default function App() {
  return (
    <div style={{ position: 'fixed', left: 0, top: 0, width: 597, height: 400, overflow: 'hidden', background: '#fff' }}>
      {panels.map(p => <Panel key={p.title} {...p} />)}
    </div>
  )
}
